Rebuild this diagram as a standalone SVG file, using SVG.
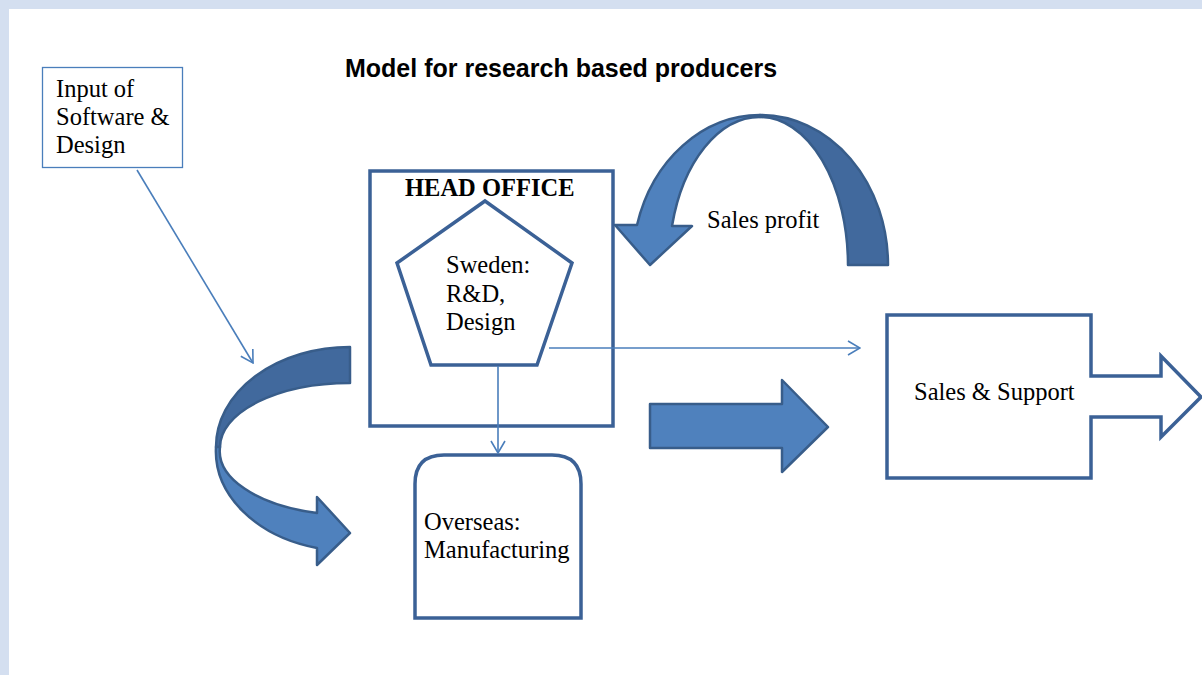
<svg xmlns="http://www.w3.org/2000/svg" width="1202" height="675" viewBox="0 0 1202 675">
<style>
.lbl{font-family:"Liberation Serif","Times New Roman",serif;font-size:24.5px;fill:#000}
.box{fill:#fff;stroke:#3b6196;stroke-width:3.5}
.thin{fill:none;stroke:#4a7ebb;stroke-width:1.6}
.lt{fill:#4f81bd;stroke:#385d8a;stroke-width:2.5;stroke-linejoin:round}
.dk{fill:#41699d;stroke:#385d8a;stroke-width:2.5;stroke-linejoin:round}
</style>
<defs>
<marker id="open" viewBox="0 0 14 16" refX="13" refY="8" markerWidth="14" markerHeight="16" markerUnits="userSpaceOnUse" orient="auto">
<path d="M1,1 L13,8 L1,15" fill="none" stroke="#4a7ebb" stroke-width="1.6"/>
</marker>
</defs>
<rect x="0" y="0" width="1202" height="675" fill="#fff"/>
<rect x="0" y="0" width="1202" height="9" fill="#d4dff0"/>
<rect x="0" y="0" width="9" height="675" fill="#d4dff0"/>
<text x="345" y="77" style="font-family:'Liberation Sans',Arial,sans-serif;font-weight:bold;font-size:25px">Model for research based producers</text>

<g id="input">
<rect x="42.5" y="67.5" width="140" height="100" fill="#fff" stroke="#4a7ebb" stroke-width="1.3"/>
<text class="lbl" x="56" y="97">Input of</text>
<text class="lbl" x="56" y="125">Software &amp;</text>
<text class="lbl" x="56" y="153">Design</text>
</g>

<g id="head-office">
<rect class="box" x="370" y="171" width="243" height="255"/>
<text class="lbl" x="405" y="196" style="font-weight:bold">HEAD OFFICE</text>
</g>

<g id="sweden">
<polygon class="box" points="485,201 572,263 537,365 431,365 397,263"/>
<text class="lbl" x="446" y="273">Sweden:</text>
<text class="lbl" x="446" y="302">R&amp;D,</text>
<text class="lbl" x="446" y="330">Design</text>
</g>

<g id="overseas">
<path class="box" d="M415,618 L415,484 Q415,455 444,455 L552,455 Q581,455 581,484 L581,618 Z"/>
<text class="lbl" x="424" y="530">Overseas:</text>
<text class="lbl" x="424" y="558">Manufacturing</text>
</g>

<g id="sales-support">
<path class="box" d="M887,315 L1091,315 L1091,376 L1161,376 L1161,356 L1201,397 L1161,437 L1161,417 L1091,417 L1091,478 L887,478 Z"/>
<text class="lbl" x="914" y="400">Sales &amp; Support</text>
</g>

<g id="sales-profit">
<path class="dk" d="M760,115 A127.5,150 0 0 1 888,265 L848,265 A88,148 0 0 0 760,117 Z"/>
<path class="lt" d="M760,115 A127.5,150 0 0 0 637,225 L615,225 L650,265 L692,226 L672,226 A91,148 0 0 1 760,117 Z"/>
<text class="lbl" x="707" y="228">Sales profit</text>
</g>

<g id="connectors">
<line class="thin" x1="137" y1="170" x2="253" y2="363" marker-end="url(#open)"/>
<line class="thin" x1="498" y1="366" x2="498" y2="453" marker-end="url(#open)"/>
<line class="thin" x1="549" y1="348" x2="860" y2="348" marker-end="url(#open)"/>
<path class="lt" d="M650,404 L782,404 L782,380 L828,427 L782,472 L782,448 L650,448 Z"/>
<path class="dk" d="M350,347 A134,100 0 0 0 216,447 L220,447 A130,64 0 0 1 350,383 Z"/>
<path class="lt" d="M216,447 A134,100 0 0 0 317,548 L317,565 L350,533 L317,497 L317,513 A130,64 0 0 1 220,447 Z"/>
</g>
</svg>
